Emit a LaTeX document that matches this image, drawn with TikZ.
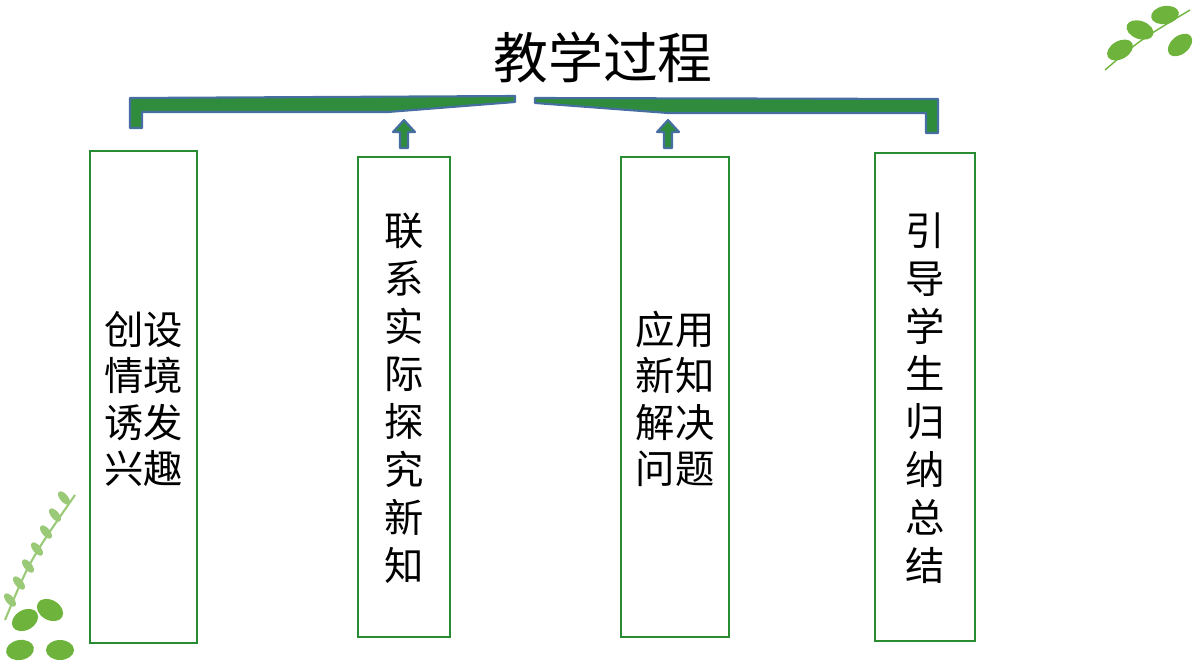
\documentclass[tikz,border=0pt]{standalone}
\usepackage{fontspec}
\newfontfamily\cjk{Noto Sans CJK SC}
\usetikzlibrary{positioning}
\definecolor{bargreen}{RGB}{46,140,60}
\definecolor{barblue}{RGB}{70,110,160}
\definecolor{boxgreen}{RGB}{40,140,50}
\definecolor{leafgreen}{RGB}{110,180,60}
\tikzset{
  step box/.style={draw=boxgreen, line width=2pt, fill=white},
  step text/.style={font=\cjk\fontsize{28}{33}\selectfont, align=center},
  bar/.style={draw=barblue, fill=bargreen, line width=1.5pt, line join=round},
  leaf/.style={fill=leafgreen, draw=none}
}
\begin{document}
\begin{tikzpicture}[x=0.025cm, y=-0.025cm]
\useasboundingbox (0,0) rectangle (1200,671);

% Title
\node[font=\cjk\fontsize{39}{44}\selectfont] (title) at (603,57) {教学过程};

% Brace
\draw[bar] (130,128) -- (130,98) -- (515,96) -- (515,102) -- (388,112) -- (142,112) -- (142,128) -- cycle;
\draw[bar] (535,98) -- (938,99) -- (938,133) -- (926,133) -- (926,113) -- (668,113) -- (535,103) -- cycle;

% Arrows
\foreach \ax in {404,668}
  \draw[bar] (\ax-4,148) -- (\ax-4,132) -- (\ax-11,132) -- (\ax,120) -- (\ax+11,132) -- (\ax+4,132) -- (\ax+4,148) -- cycle;

% Boxes
\draw[step box] (90,151) rectangle (197,643);
\draw[step box] (358,157) rectangle (450,637);
\draw[step box] (621,157) rectangle (729,637);
\draw[step box] (875,153) rectangle (975,641);

% Texts
\node[step text] (s1) at (143.5,399) {创设\\情境\\诱发\\兴趣};
\node[step text, font=\cjk\fontsize{28}{34}\selectfont] (s2) at (404,398) {联\\系\\实\\际\\探\\究\\新\\知};
\node[step text] (s3) at (675,399) {应用\\新知\\解决\\问题};
\node[step text, font=\cjk\fontsize{28}{34}\selectfont] (s4) at (925,398) {引\\导\\学\\生\\归\\纳\\总\\结};

% Leaves
\foreach \lx/\ly/\r in {1120/50/30, 1140/30/-20, 1165/15/10, 1180/45/40}
  \fill[leaf, rotate around={\r:(\lx,\ly)}] (\lx,\ly) ellipse (14 and 9);
\draw[leafgreen, line width=1pt] (1105,70) .. controls (1140,40) .. (1190,10);
\draw[leafgreen!70!white, line width=1.5pt] (5,620) .. controls (30,560) .. (75,495);
\foreach \ly in {0,...,6}
  \fill[leafgreen!70!white, rotate around={-50:(10+9*\ly,600-17*\ly)}] (10+9*\ly,600-17*\ly) ellipse (8 and 4);
\foreach \lx/\ly/\r in {25/620/30, 50/610/-30, 20/650/10, 60/650/0}
  \fill[leaf, rotate around={\r:(\lx,\ly)}] (\lx,\ly) ellipse (14 and 10);
\end{tikzpicture}
\end{document}
